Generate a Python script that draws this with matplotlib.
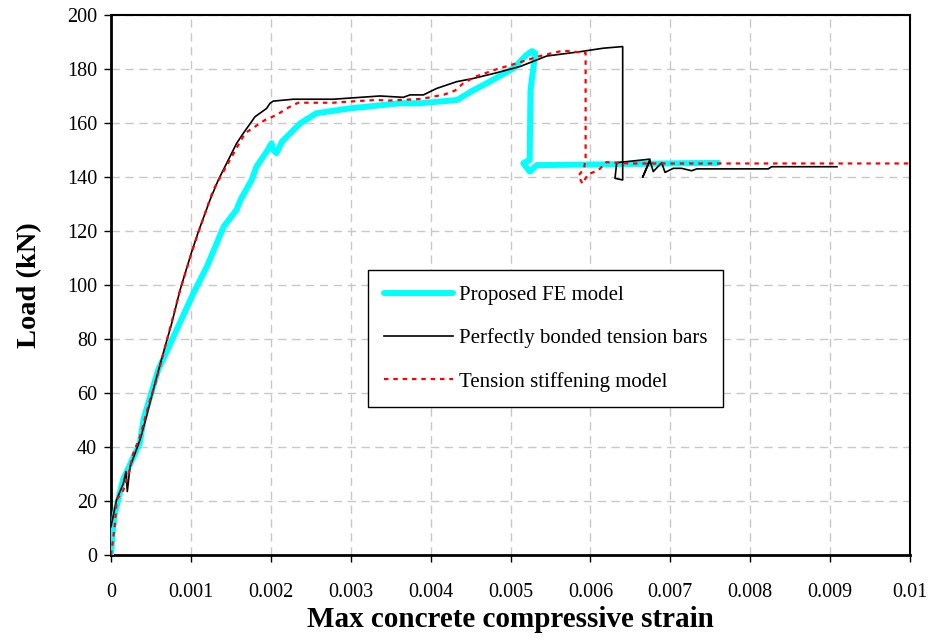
import matplotlib
matplotlib.use("Agg")
import matplotlib.pyplot as plt
from matplotlib.ticker import MultipleLocator, FuncFormatter

plt.rcParams['font.family'] = ['Liberation Serif', 'DejaVu Serif']

# Proposed FE model
fe_strain = [0, 0.00002, 0.00005, 0.00015, 0.00036, 0.00041, 0.00059, 0.00082, 0.00103,
             0.0012, 0.00141, 0.00157, 0.00162, 0.00176, 0.00182, 0.00195, 0.00201, 0.00203,
             0.00207, 0.00214, 0.00237, 0.00257, 0.00299, 0.00362, 0.00387, 0.00433, 0.00454,
             0.00474, 0.00504, 0.0052, 0.00527, 0.00531, 0.00525, 0.00524, 0.00516, 0.00524,
             0.00533, 0.0060, 0.0068, 0.00712, 0.0076]
fe_load = [0, 8, 15.4, 27.8, 41.4, 50.6, 68.5, 83.3, 96.9,
           106.8, 121.6, 127.8, 131.5, 138.9, 143.8, 149.5, 152.5, 150,
           148.8, 153.1, 159.9, 163.6, 165.4, 167.3, 167.3, 168.5, 172.2,
           175.3, 180.3, 185.2, 186.6, 185.8, 172.2, 146.3, 145.1, 142,
           144.4, 144.6, 144.9, 145.1, 145.2]

# Perfectly bonded tension bars
pb_strain = [0, 0.00007, 0.000154, 0.000188, 0.000204, 0.000238, 0.0003, 0.000363, 0.000438,
             0.00055, 0.000676, 0.00076, 0.000864, 0.00101, 0.001093, 0.001239, 0.001343,
             0.001573, 0.001656, 0.001802, 0.001948, 0.00199, 0.002031, 0.002282, 0.002782,
             0.003367, 0.003658, 0.003742, 0.00391, 0.004076, 0.004327, 0.004535, 0.004827,
             0.005119, 0.005453, 0.00587, 0.006162, 0.006404, 0.006404, 0.006308, 0.006329,
             0.006746, 0.006654, 0.006746, 0.006787, 0.006892, 0.006934, 0.007037, 0.007143,
             0.007268, 0.00733, 0.008226, 0.008269, 0.009086]
pb_load = [10.5, 20.4, 26.5, 30.9, 23.5, 32.7, 37.6, 42.6, 50.6,
           63.6, 77.1, 85.8, 98.1, 112.3, 119.7, 131.5, 138.9,
           152.5, 156.2, 162.3, 165.4, 167.3, 168.1, 168.8, 168.8,
           170, 169.5, 170.4, 170.4, 172.8, 175.3, 176.5, 178.6,
           180.9, 184.8, 186.4, 187.7, 188.3, 138.9, 139.5, 145.3,
           146.6, 139.9, 146, 142, 145.3, 141.7, 143.2, 143.2,
           142.3, 143, 143, 143.8, 143.8]

# Tension stiffening model
ts_strain = [0, 0.00002, 0.00005, 0.00007, 0.000154, 0.000217, 0.000279, 0.000363, 0.000488,
             0.00055, 0.000676, 0.000864, 0.00101, 0.0011, 0.00128, 0.00151, 0.001677,
             0.001927, 0.002073, 0.002219, 0.002344, 0.002782, 0.003075, 0.003325, 0.003471,
             0.003888, 0.00418, 0.004305, 0.004409, 0.004556, 0.004827, 0.005098, 0.005369,
             0.005661, 0.005911, 0.00594, 0.00594, 0.00592, 0.00585, 0.0059, 0.00597, 0.0061,
             0.0062, 0.0065, 0.0100]
ts_load = [0, 4.4, 11.8, 20.4, 24, 29.6, 37.6, 43.8, 57.4,
           63, 77, 98, 112, 120, 135.2, 147.5, 156.2,
           161.1, 163, 165.7, 167.5, 167.5, 168.1, 168.5, 168.3,
           168.9, 170.6, 172, 174.7, 177.1, 179.9, 182.3, 184.8,
           186.8, 186, 186, 147, 143, 140.5, 137.5, 141, 142.5,
           145.5, 145, 145]

series_labels = ["Proposed FE model", "Perfectly bonded tension bars", "Tension stiffening model"]
x_label = "Max concrete compressive strain"
y_label = "Load (kN)"

fig = plt.figure(figsize=(9.32, 6.43), dpi=100)
ax = fig.add_axes([0.1191, 0.1369, 0.8573, 0.8398])

ax.plot(fe_strain, fe_load, color='#00FFFF', lw=4.3, solid_capstyle='round',
        solid_joinstyle='round', label=series_labels[0], zorder=3)
ax.plot(pb_strain, pb_load, color='black', lw=1.2, label=series_labels[1], zorder=4)
ax.plot(ts_strain, ts_load, color='red', lw=1.6, linestyle=(0, (2, 2.2)),
        label=series_labels[2], zorder=5)

ax.set_xlim(0, 0.01)
ax.set_ylim(0, 200)
ax.xaxis.set_major_locator(MultipleLocator(0.001))
ax.yaxis.set_major_locator(MultipleLocator(20))

def fmt_x(v, pos):
    if abs(v) < 1e-12:
        return "0"
    s = f"{v:.3f}".rstrip('0')
    return s
ax.xaxis.set_major_formatter(FuncFormatter(fmt_x))

ax.grid(True, color='#c8c8c8', linestyle=(0, (6, 4)), linewidth=1.0)
ax.set_axisbelow(True)

for name, s in ax.spines.items():
    s.set_linewidth(2.0 if name in ('left', 'bottom') else 1.5)
    s.set_color('black')

ax.tick_params(axis='both', direction='out', length=5, width=1.0, labelsize=14.5,
               colors='black')
ax.tick_params(axis='x', pad=15)
ax.tick_params(axis='y', pad=5)

ax.set_xlabel(x_label, fontsize=21, fontweight='bold', labelpad=3)
ax.set_ylabel(y_label, fontsize=20.5, fontweight='bold', labelpad=18)

leg = ax.legend(loc='upper left', bbox_to_anchor=(0.322, 0.528), fontsize=15,
                frameon=True, fancybox=False, edgecolor='black', framealpha=1,
                handlelength=3.3, labelspacing=1.12, borderpad=0.75, handletextpad=0.3,
                borderaxespad=0)
leg.get_frame().set_linewidth(1.0)

fig.savefig("out.png", dpi=100)
